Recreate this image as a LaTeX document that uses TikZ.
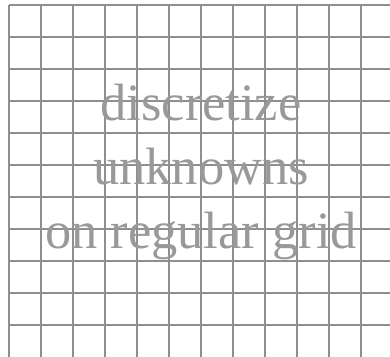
\documentclass[tikz,border=0pt]{standalone}
\usepackage{fontspec}
\setmainfont{Liberation Serif}
\definecolor{gridgray}{HTML}{8F8F8F}
\definecolor{textgray}{HTML}{999999}
\tikzset{
  gridline/.style={draw=gridgray, line width=2pt},
  bigtext/.style={text=textgray, anchor=base, inner sep=0pt, font=\fontsize{52.5}{64}\selectfont}
}
\begin{document}
\begin{tikzpicture}[x=1pt,y=-1pt]
\useasboundingbox (0,0) rectangle (390,356);
\begin{scope}
\clip (0,0) rectangle (390,356);
\foreach \k in {0,...,11} {
  \draw[gridline] ({9+32*\k},5) -- ({9+32*\k},360);
}
\foreach \k in {0,...,10} {
  \draw[gridline] (9,{5+32*\k}) -- (394,{5+32*\k});
}
\end{scope}
\node[bigtext] (l1) at (201,120) {discretize};
\node[bigtext] (l2) at (201,184) {unknowns};
\node[bigtext] (l3) at (201,248) {on regular grid};
\end{tikzpicture}
\end{document}
